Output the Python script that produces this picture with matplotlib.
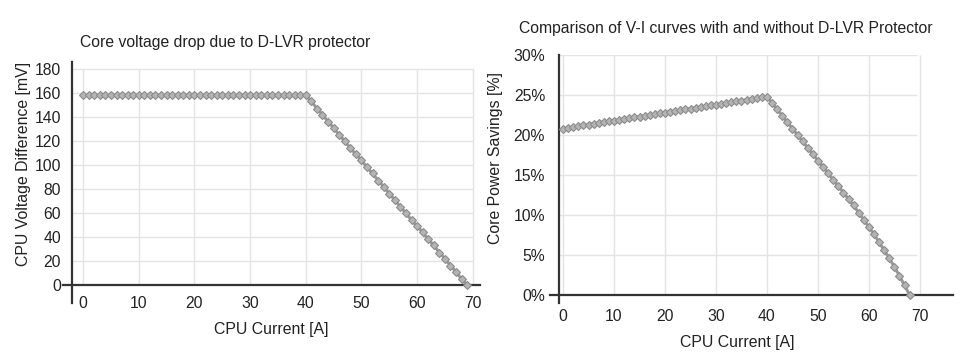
import matplotlib
matplotlib.use("Agg")
import matplotlib.pyplot as plt

plt.rcParams['font.family'] = ['Liberation Sans', 'DejaVu Sans']

# ---------------- data ----------------
current_left = list(range(0, 70))
voltage_diff_mv = [158, 158, 158, 158, 158, 158, 158, 158, 158, 158,
                   158, 158, 158, 158, 158, 158, 158, 158, 158, 158,
                   158, 158, 158, 158, 158, 158, 158, 158, 158, 158,
                   158, 158, 158, 158, 158, 158, 158, 158, 158, 158,
                   158, 153, 147, 142, 136, 131, 125, 120, 114, 109,
                   104, 98, 93, 87, 82, 76, 71, 65, 60, 54,
                   49, 44, 38, 33, 27, 22, 16, 11, 5, 0]

current_right = list(range(0, 69))
power_savings_pct = [20.8, 20.9, 21.0, 21.1, 21.2, 21.3, 21.4, 21.5, 21.6, 21.7,
                     21.8, 21.9, 22.0, 22.1, 22.2, 22.3, 22.4, 22.5, 22.6, 22.7,
                     22.8, 22.9, 23.0, 23.1, 23.2, 23.3, 23.4, 23.5, 23.6, 23.7,
                     23.8, 23.9, 24.0, 24.1, 24.2, 24.3, 24.4, 24.5, 24.6, 24.7,
                     24.8, 24.0, 23.2, 22.4, 21.6, 20.8, 20.0, 19.2, 18.4, 17.6,
                     16.8, 16.0, 15.2, 14.4, 13.6, 12.8, 12.0, 11.2, 10.3, 9.4,
                     8.5, 7.6, 6.6, 5.6, 4.6, 3.5, 2.4, 1.2, 0.0]

x_ticks = [0, 10, 20, 30, 40, 50, 60, 70]
left_y_ticks = [0, 20, 40, 60, 80, 100, 120, 140, 160, 180]
right_y_ticks = [0, 5, 10, 15, 20, 25, 30]
right_y_labels = ['0%', '5%', '10%', '15%', '20%', '25%', '30%']

left_title = 'Core voltage drop due to D-LVR protector'
right_title = 'Comparison of V-I curves with and without D-LVR Protector'
x_label = 'CPU Current [A]'
left_y_label = 'CPU Voltage Difference [mV]'
right_y_label = 'Core Power Savings [%]'

# ---------------- style ----------------
W, H = 962, 362
fig = plt.figure(figsize=(W / 100, H / 100), dpi=100)
fig.patch.set_facecolor('white')

TXT = '#222222'
AX = '#333333'
GRID = '#e4e4e4'
LINE = '#999999'
TICK_FS = 11.3
LAB_FS = 11.4
TITLE_FS = 11.3
MK = dict(color=LINE, lw=2.2, marker='D', markersize=4.2,
          markerfacecolor='#b4b4b4', markeredgecolor='#8c8c8c',
          markeredgewidth=0.8, zorder=4, clip_on=False)


def px_axes(l, r, t, b):
    return fig.add_axes([l / W, (H - b) / H, (r - l) / W, (b - t) / H])


def style(ax, xlim, ylim, grid_xmax, grid_ytop):
    ax.set_xlim(*xlim)
    ax.set_ylim(*ylim)
    for s in ['top', 'right', 'bottom']:
        ax.spines[s].set_visible(False)
    ax.spines['left'].set_color(AX)
    ax.spines['left'].set_linewidth(1.6)
    ax.hlines([t for t in ax.get_yticks() if t > 0], xlim[0], grid_xmax,
              color=GRID, lw=1.0, zorder=0)
    ax.vlines(x_ticks, 0, grid_ytop, color=GRID, lw=1.0, zorder=0)
    ax.axhline(0, xmin=-0.022, xmax=1.0, color=AX, lw=1.6, clip_on=False, zorder=3)
    ax.tick_params(axis='both', length=0, labelsize=TICK_FS, colors=TXT)


# ---------------- left chart ----------------
ax1 = px_axes(72, 480, 62, 303)
ax1.set_xticks(x_ticks)
ax1.set_yticks(left_y_ticks)
style(ax1, (-2.0, 71.3), (-15, 185.8), 70, 180)
ax1.tick_params(axis='x', pad=-5)
ax1.tick_params(axis='y', pad=8)
ax1.plot(current_left, voltage_diff_mv, **MK)
ax1.set_xlabel(x_label, fontsize=LAB_FS, color=TXT, va='center')
ax1.xaxis.set_label_coords(0.488, -0.112)
ax1.set_ylabel(left_y_label, fontsize=LAB_FS, color=TXT, va='center')
ax1.yaxis.set_label_coords(-0.120, 0.579)
fig.text(80 / W, 1 - 42 / H, left_title, fontsize=TITLE_FS, color=TXT,
         ha='left', va='center')

# ---------------- right chart ----------------
ax2 = px_axes(559, 953, 55, 303)
ax2.set_xticks(x_ticks)
ax2.set_yticks(right_y_ticks)
ax2.set_yticklabels(right_y_labels)
style(ax2, (-0.8, 76.5), (-1, 30), 69.5, 30)
ax2.tick_params(axis='x', pad=4)
ax2.tick_params(axis='y', pad=10)
ax2.plot(current_right, power_savings_pct, **MK)
ax2.set_xlabel(x_label, fontsize=LAB_FS, color=TXT, va='center')
ax2.xaxis.set_label_coords(0.452, -0.161)
ax2.set_ylabel(right_y_label, fontsize=LAB_FS, color=TXT, va='center')
ax2.yaxis.set_label_coords(-0.162, 0.585)
fig.text(726 / W, 1 - 28 / H, right_title, fontsize=TITLE_FS, color=TXT,
         ha='center', va='center')

fig.savefig('out.png', dpi=100, facecolor='white')
